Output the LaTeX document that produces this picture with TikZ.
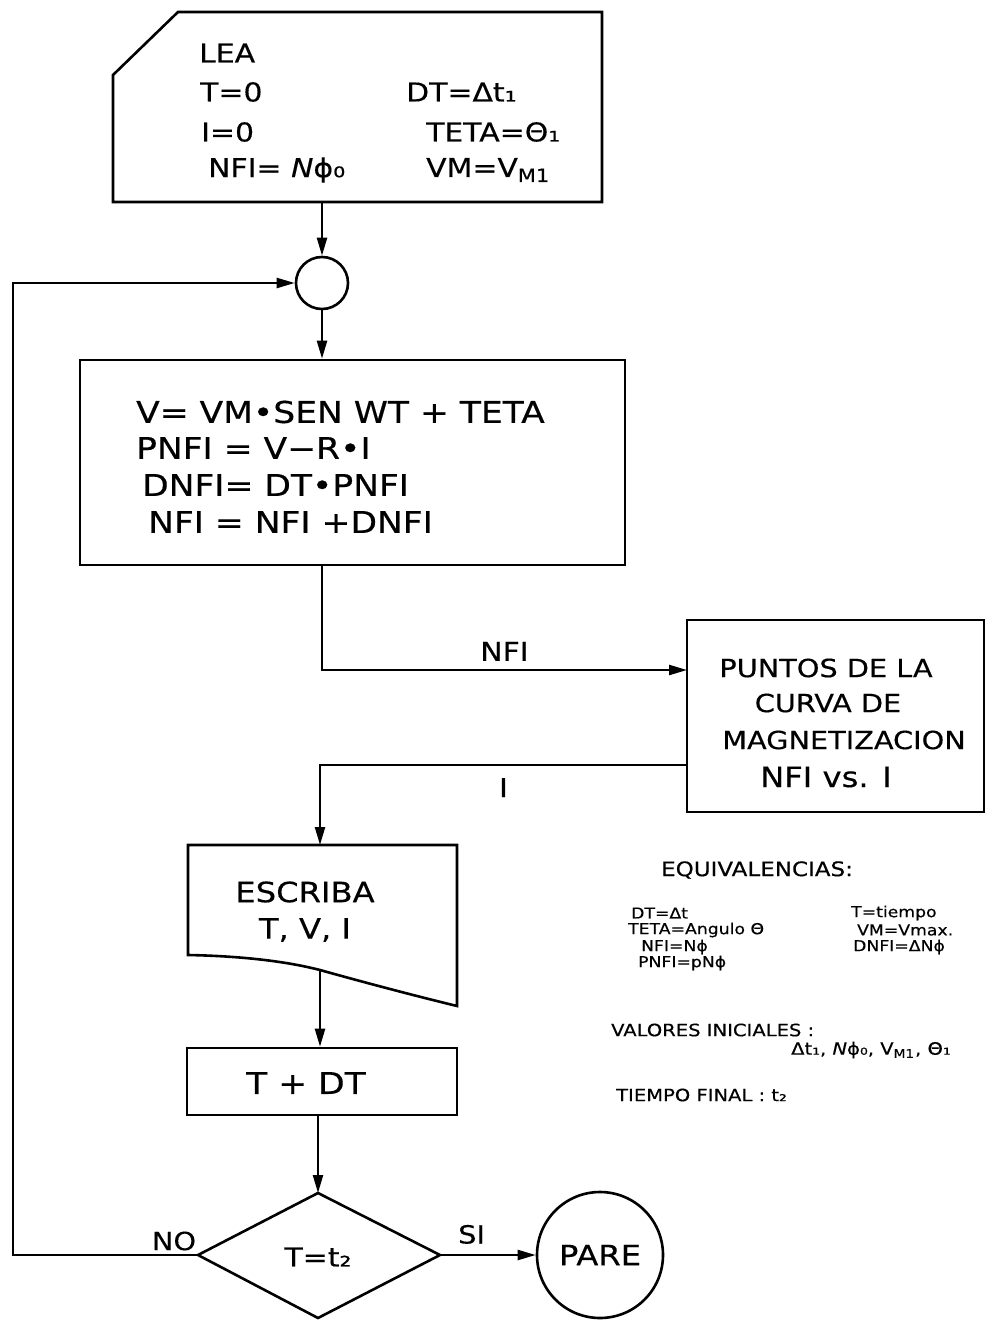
\documentclass[tikz,border=0pt]{standalone}
\usepackage{fontspec}
\setmainfont{DejaVu Sans}[FakeStretch=1.15,FakeBold=0.4]
\usetikzlibrary{arrows.meta}
\begin{document}
\begin{tikzpicture}[x=0.5pt,y=-0.5pt,line width=1.15pt,
  box/.style={draw,line width=1.3pt,inner sep=0pt},
  arr/.style={-{Triangle[length=9pt,width=5pt]}},
  txt/.style={inner sep=0pt,anchor=west},
  ctxt/.style={inner sep=0pt},
  fA/.style={font=\fontsize{13}{15}\selectfont},
  fB/.style={font=\fontsize{15}{17}\selectfont},
  fC/.style={font=\fontsize{12.5}{14}\selectfont},
  fS/.style={font=\fontsize{7.5}{9}\selectfont},
  fH/.style={font=\fontsize{10}{12}\selectfont}]
\useasboundingbox[fill=white] (0,0) rectangle (1006,1321);

% ---- input box (LEA)
\draw[line width=1.3pt] (178,12) -- (602,12) -- (602,202) -- (113,202) -- (113,75) -- cycle;
\coordinate (leaB) at (322,202);
\node[txt,fA] (lea) at (198,53) {LEA};
\node[txt,fA] (t0) at (199,92) {T=0};
\node[txt,fA] (i0) at (200,132) {I=0};
\node[txt,fA] (nfi0) at (207,170) {NFI= \textit{N}ϕ₀};
\node[txt,fA] (dt0) at (405,92) {DT=Δt₁};
\node[txt,fA] (teta0) at (425,132) {TETA=Θ₁};
\node[txt,fA] (vm0) at (425,170) {VM=V\textsubscript{M1}};

% ---- connector circle
\node[circle,draw,line width=1.3pt,minimum size=26pt,inner sep=0pt] (join) at (322,283) {};

% ---- calc box
\node[box,minimum width=272.5pt,minimum height=102.5pt] (calc) at (352.5,462.5) {};
\node[txt,fB] (l1) at (135,412) {V= VM•SEN WT + TETA};
\node[txt,fB] (l2) at (135,448) {PNFI = V−R•I};
\node[txt,fB] (l3) at (141,485) {DNFI= DT•PNFI};
\node[txt,fB] (l4) at (147,522) {NFI = NFI +DNFI};
\coordinate (calcS) at (322,565);

% ---- curve box
\node[box,minimum width=148.5pt,minimum height=96pt] (curva) at (835.5,716) {};
\node[ctxt,fC] (p1) at (826,668) {PUNTOS DE LA};
\node[ctxt,fC] (p2) at (828,703) {CURVA DE};
\node[ctxt,fC] (p3) at (844,740) {MAGNETIZACION};
\node[ctxt,font=\fontsize{14}{16}\selectfont] (p4) at (826,777) {NFI vs. I};
\coordinate (curvaIn) at (687,670);
\coordinate (curvaOut) at (687,765);

% ---- output (document) shape
\draw[line width=1.3pt] (188,845) -- (457,845) -- (457,1006)
   .. controls (420,997) and (370,984) .. (320,970)
   .. controls (285,961) and (240,956) .. (188,955) -- cycle;
\coordinate (escT) at (320,845);
\coordinate (escB) at (320,970);
\node[ctxt,font=\fontsize{14}{16}\selectfont] (e1) at (305,892) {ESCRIBA};
\node[ctxt,font=\fontsize{14}{16}\selectfont] (e2) at (305,930) {T, V, I};

% ---- T + DT box
\node[box,minimum width=135pt,minimum height=33.5pt] (tdt) at (322,1081.5) {};
\node[ctxt,fB] (tdtT) at (306,1083) {T + DT};

% ---- decision diamond
\draw[line width=1.3pt] (318,1193) -- (440,1255) -- (318,1318) -- (198,1255) -- cycle;
\coordinate (diaT) at (318,1193);
\coordinate (diaR) at (440,1255);
\coordinate (diaL) at (198,1255);
\node[ctxt,fA] (diaTxt) at (318,1257) {T=t₂};

% ---- stop circle
\node[circle,draw,line width=1.3pt,minimum size=63pt,inner sep=0pt,font=\fontsize{14}{16}\selectfont] (pare) at (600,1255) {PARE};

% ---- loop corners
\coordinate (loopB) at (13,1255);
\coordinate (iCorner) at (320,765);

% ---- connectors
\draw[arr] (leaB) -- (join.north);
\draw[arr] (join.south) -- (join.south |- calc.north);
\draw[arr] (calcS) |- (curvaIn) node[pos=0.75,above=4pt,ctxt,fA] (lnfi) {NFI};
\draw[arr] (curvaOut) -- (iCorner) node[pos=0.5,below=6pt,ctxt,fA] (li) {I} -- (escT);
\draw[arr] (escB) -- (escB |- tdt.north);
\draw[arr] (tdt.south -| diaT) -- (diaT);
\draw[arr] (diaR) -- (pare.west) node[pos=0.33,above=5pt,ctxt,fC] (lsi) {SI};
\draw[arr] (diaL) -- (loopB) |- (join.west);
\node[ctxt,fC] (lno) at (174,1241) {NO};

% ---- equivalencias notes
\node[txt,fH] (eqh) at (660,870) {EQUIVALENCIAS:};
\node[txt,fS] (eq1) at (630,913) {DT=Δt};
\node[txt,fS] (eq2) at (627,930) {TETA=Angulo Θ};
\node[txt,fS] (eq3) at (640,947) {NFI=Nϕ};
\node[txt,fS] (eq4) at (637,963) {PNFI=pNϕ};
\node[txt,fS] (eq5) at (850,913) {T=tiempo};
\node[txt,fS] (eq6) at (856,930) {VM=Vmax.};
\node[txt,fS] (eq7) at (852,947) {DNFI=ΔNϕ};
\node[txt,font=\fontsize{8.5}{10}\selectfont] (vi) at (610,1030) {VALORES INICIALES :};
\node[txt,font=\fontsize{8.5}{10}\selectfont] (vi2) at (790,1050) {Δt₁, \textit{N}ϕ₀, V\textsubscript{M1}, Θ₁};
\node[txt,font=\fontsize{8.5}{10}\selectfont] (tf) at (615,1095) {TIEMPO FINAL : t₂};
\end{tikzpicture}
\end{document}
